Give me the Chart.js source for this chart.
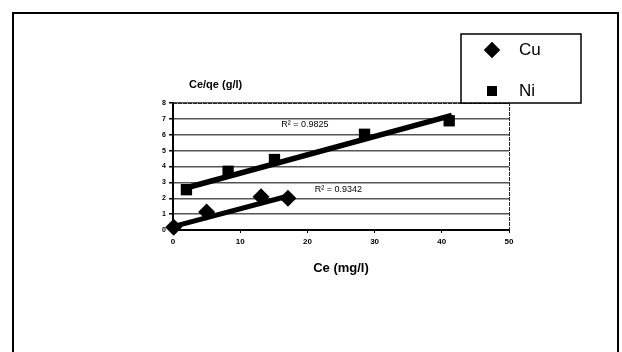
<!DOCTYPE html>
<html>
<head>
<meta charset="utf-8">
<script src="https://cdn.jsdelivr.net/npm/chart.js@4/dist/chart.umd.min.js"></script>
<style>
html,body{margin:0;padding:0;background:#fff;}
#wrap{position:relative;width:622px;height:352px;}
</style>
</head>
<body>
<div id="wrap"><canvas id="c" width="622" height="352"></canvas></div>
<script>
// Data
const cuCe = [0.1, 5.0, 13.1, 17.1];
const cuRatio = [0.17, 1.14, 2.1, 2.0];
const niCe = [2.0, 8.2, 15.1, 28.5, 41.1];
const niRatio = [2.54, 3.7, 4.44, 6.03, 6.88];
// Trendline end points as drawn in the picture
const cuTrendX = [0, 17.3];
const cuTrendY = [0.21, 2.16];
const niTrendX = [1.5, 41.5];
const niTrendY = [2.6, 7.22];
const seriesNames = ['Cu', 'Ni'];
const r2Labels = ['R² = 0.9342', 'R² = 0.9825'];
const r2Pos = [[21.1, 2.54], [16.1, 6.67]];
const xTicks = [0, 10, 20, 30, 40, 50];
const yTicks = [0, 1, 2, 3, 4, 5, 6, 7, 8];
const xTitle = 'Ce (mg/l)';
const yTitle = 'Ce/qe (g/l)';

const FONT = "'Liberation Sans', Arial, sans-serif";
const toPts = (xs, ys) => xs.map((x, i) => ({x: x, y: ys[i]}));

const decor = {
  id: 'decor',
  beforeDraw(chart) {
    const ctx = chart.ctx;
    ctx.save();
    ctx.fillStyle = '#fff';
    ctx.fillRect(0, 0, chart.width, chart.height);
    // outer frame
    ctx.strokeStyle = '#000';
    ctx.lineWidth = 2;
    ctx.beginPath();
    ctx.moveTo(13, 360); ctx.lineTo(13, 13); ctx.lineTo(618, 13); ctx.lineTo(618, 360);
    ctx.stroke();
    ctx.restore();
  },
  afterDraw(chart) {
    const ctx = chart.ctx;
    const a = chart.chartArea;
    const xs = chart.scales.x, ys = chart.scales.y;
    ctx.save();
    // plot area top/right border
    ctx.strokeStyle = '#222';
    ctx.lineWidth = 1;
    ctx.setLineDash([4, 1]);
    ctx.beginPath();
    ctx.moveTo(a.left, a.top + 0.5); ctx.lineTo(a.right + 0.5, a.top + 0.5); ctx.lineTo(a.right + 0.5, a.bottom);
    ctx.stroke();
    ctx.setLineDash([]);
    // axis titles
    ctx.fillStyle = '#000';
    ctx.font = 'bold 11px ' + FONT;
    ctx.textAlign = 'left';
    ctx.textBaseline = 'middle';
    ctx.fillText(yTitle, 189, 85);
    ctx.font = 'bold 13px ' + FONT;
    ctx.textAlign = 'center';
    ctx.fillText(xTitle, (a.left + a.right) / 2, 268);
    // R² labels
    ctx.font = '9px ' + FONT;
    ctx.textAlign = 'left';
    r2Labels.forEach((t, i) => {
      ctx.fillText(t, xs.getPixelForValue(r2Pos[i][0]), ys.getPixelForValue(r2Pos[i][1]));
    });
    // legend box
    ctx.fillStyle = '#fff';
    ctx.fillRect(461, 34, 120, 69);
    ctx.strokeStyle = '#000';
    ctx.lineWidth = 1.5;
    ctx.strokeRect(461, 34, 120, 69);
    const rows = [50, 91];
    ctx.fillStyle = '#000';
    ctx.font = '17px ' + FONT;
    ctx.textBaseline = 'middle';
    seriesNames.forEach((n, i) => {
      const ds = chart.data.datasets[i];
      Chart.helpers.drawPoint(ctx, {pointStyle: ds.pointStyle, radius: i === 0 ? 8 : 7, borderWidth: 0, rotation: 0}, 492, rows[i]);
      ctx.fill();
      ctx.fillText(n, 519, rows[i]);
    });
    ctx.restore();
  }
};

new Chart(document.getElementById('c'), {
  type: 'scatter',
  data: {
    datasets: [
      {label: seriesNames[0], data: toPts(cuCe, cuRatio), pointStyle: 'rectRot', pointRadius: 8.5, backgroundColor: '#000', borderColor: '#000', borderWidth: 0, order: 1},
      {label: seriesNames[1], data: toPts(niCe, niRatio), pointStyle: 'rect', pointRadius: 8, backgroundColor: '#000', borderColor: '#000', borderWidth: 0, order: 1},
      {label: 'trend Cu', data: toPts(cuTrendX, cuTrendY), showLine: true, pointRadius: 0, borderColor: '#000', borderWidth: 5, order: 2},
      {label: 'trend Ni', data: toPts(niTrendX, niTrendY), showLine: true, pointRadius: 0, borderColor: '#000', borderWidth: 5.5, order: 2}
    ]
  },
  options: {
    responsive: false,
    animation: false,
    clip: false,
    layout: {padding: {left: 143, right: 113, top: 103, bottom: 102}},
    plugins: {legend: {display: false}, tooltip: {enabled: false}},
    scales: {
      x: {
        type: 'linear', min: 0, max: 50,
        afterBuildTicks: s => { s.ticks = xTicks.map(v => ({value: v})); },
        afterFit: s => { s.height = 20; },
        grid: {drawOnChartArea: false, drawTicks: true, tickLength: 3, color: '#000'},
        border: {display: true, color: '#000', width: 2},
        ticks: {color: '#000', font: {family: FONT, size: 8, weight: 'bold'}, padding: 4, maxRotation: 0}
      },
      y: {
        type: 'linear', min: 0, max: 8,
        afterBuildTicks: s => { s.ticks = yTicks.map(v => ({value: v})); },
        afterFit: s => { s.width = 30; },
        grid: {color: '#555', lineWidth: 1.5, drawTicks: true, tickLength: 4, tickColor: '#000'},
        border: {display: true, color: '#000', width: 2},
        ticks: {color: '#000', font: {family: FONT, size: 7, weight: 'bold'}, padding: 3}
      }
    }
  },
  plugins: [decor]
});
</script>
</body>
</html>
